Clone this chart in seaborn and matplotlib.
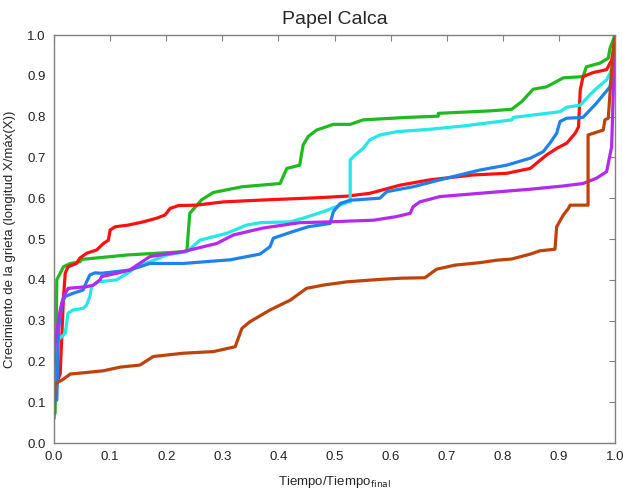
import matplotlib
matplotlib.use("Agg")
import matplotlib.pyplot as plt
import seaborn as sns
import pandas as pd

# ---- data ----
green_x = [0.0, 0.002, 0.005, 0.017, 0.029, 0.046, 0.049, 0.132, 0.183, 0.233, 0.237, 0.242, 0.263, 0.284,
           0.335, 0.403, 0.415, 0.438, 0.444, 0.453, 0.468, 0.498, 0.528, 0.551, 0.629, 0.685, 0.685, 0.777,
           0.816, 0.834, 0.854, 0.878, 0.908, 0.943, 0.949, 0.973, 0.988, 0.991, 1.0]
green_y = [0.07, 0.073, 0.40, 0.432, 0.44, 0.444, 0.45, 0.461, 0.465, 0.469, 0.473, 0.563, 0.596, 0.614,
           0.628, 0.636, 0.673, 0.681, 0.730, 0.751, 0.767, 0.781, 0.781, 0.792, 0.798, 0.801, 0.808, 0.814,
           0.818, 0.837, 0.867, 0.873, 0.895, 0.898, 0.922, 0.931, 0.943, 0.967, 1.0]

red_x = [0.003, 0.006, 0.011, 0.017, 0.020, 0.025, 0.040, 0.046, 0.058, 0.076, 0.088, 0.097, 0.100, 0.109,
         0.132, 0.159, 0.183, 0.198, 0.207, 0.222, 0.254, 0.302, 0.379, 0.468, 0.522, 0.563, 0.617, 0.670,
         0.747, 0.807, 0.849, 0.863, 0.878, 0.896, 0.914, 0.929, 0.935, 0.938, 0.943, 0.961, 0.985, 0.994, 1.0]
red_y = [0.13, 0.15, 0.17, 0.359, 0.416, 0.432, 0.44, 0.453, 0.465, 0.473, 0.489, 0.497, 0.522, 0.53,
         0.534, 0.542, 0.551, 0.559, 0.575, 0.582, 0.583, 0.591, 0.596, 0.601, 0.605, 0.612, 0.632, 0.645,
         0.657, 0.661, 0.673, 0.689, 0.706, 0.722, 0.735, 0.759, 0.775, 0.865, 0.898, 0.908, 0.915, 0.938, 0.99]

cyan_x = [0.0, 0.005, 0.011, 0.020, 0.025, 0.034, 0.052, 0.058, 0.064, 0.067, 0.070, 0.079, 0.112, 0.135,
          0.147, 0.171, 0.201, 0.237, 0.260, 0.308, 0.343, 0.367, 0.421, 0.444, 0.480, 0.510, 0.525, 0.528,
          0.528, 0.537, 0.551, 0.563, 0.581, 0.611, 0.670, 0.730, 0.816, 0.819, 0.902, 0.914, 0.938, 0.955,
          0.967, 0.985, 0.994, 1.0]
cyan_y = [0.18, 0.252, 0.257, 0.269, 0.318, 0.326, 0.33, 0.338, 0.359, 0.383, 0.387, 0.395, 0.40, 0.42,
          0.432, 0.444, 0.461, 0.469, 0.497, 0.514, 0.534, 0.54, 0.542, 0.551, 0.567, 0.583, 0.591, 0.591,
          0.694, 0.706, 0.722, 0.743, 0.755, 0.763, 0.769, 0.777, 0.792, 0.798, 0.812, 0.823, 0.828, 0.853,
          0.869, 0.89, 0.914, 0.96]

blue_x = [0.005, 0.008, 0.014, 0.020, 0.034, 0.052, 0.058, 0.064, 0.073, 0.085, 0.135, 0.171, 0.230, 0.314,
          0.367, 0.385, 0.391, 0.421, 0.453, 0.492, 0.498, 0.510, 0.528, 0.581, 0.593, 0.640, 0.688, 0.759,
          0.807, 0.849, 0.872, 0.884, 0.896, 0.902, 0.914, 0.943, 0.967, 0.991, 1.0]
blue_y = [0.105, 0.277, 0.342, 0.359, 0.367, 0.375, 0.395, 0.412, 0.417, 0.416, 0.424, 0.44, 0.44, 0.449,
          0.463, 0.481, 0.502, 0.516, 0.53, 0.538, 0.567, 0.587, 0.595, 0.60, 0.616, 0.628, 0.645, 0.669,
          0.681, 0.698, 0.714, 0.735, 0.759, 0.788, 0.796, 0.798, 0.833, 0.873, 0.95]

purple_x = [0.0, 0.002, 0.011, 0.017, 0.025, 0.058, 0.070, 0.082, 0.085, 0.112, 0.135, 0.171, 0.230, 0.290,
            0.320, 0.373, 0.438, 0.492, 0.528, 0.569, 0.611, 0.635, 0.640, 0.652, 0.688, 0.759, 0.849,
            0.908, 0.943, 0.967, 0.985, 0.994, 1.0]
purple_y = [0.17, 0.244, 0.326, 0.359, 0.379, 0.383, 0.387, 0.40, 0.408, 0.416, 0.424, 0.457, 0.469, 0.489,
            0.51, 0.527, 0.54, 0.542, 0.544, 0.546, 0.555, 0.563, 0.579, 0.591, 0.604, 0.612, 0.622,
            0.63, 0.636, 0.649, 0.665, 0.726, 1.0]

brown_x = [0.0, 0.002, 0.014, 0.029, 0.052, 0.088, 0.118, 0.153, 0.177, 0.230, 0.284, 0.323, 0.335, 0.349,
           0.385, 0.403, 0.421, 0.450, 0.480, 0.522, 0.581, 0.620, 0.661, 0.682, 0.715, 0.759, 0.789, 0.816,
           0.849, 0.866, 0.893, 0.896, 0.908, 0.917, 0.920, 0.952, 0.952, 0.961, 0.979, 0.982, 0.988, 0.994, 1.0]
brown_y = [0.06, 0.146, 0.154, 0.169, 0.172, 0.177, 0.186, 0.191, 0.212, 0.22, 0.224, 0.236, 0.281, 0.297,
           0.326, 0.338, 0.35, 0.379, 0.387, 0.395, 0.401, 0.404, 0.405, 0.426, 0.436, 0.442, 0.448, 0.451,
           0.463, 0.471, 0.475, 0.53, 0.559, 0.575, 0.583, 0.583, 0.755, 0.759, 0.767, 0.792, 0.796, 0.914, 1.0]

series = [
    (green_x, green_y, "#1fba1f"),
    (red_x, red_y, "#ff1010"),
    (cyan_x, cyan_y, "#22e8e8"),
    (blue_x, blue_y, "#1e82ee"),
    (purple_x, purple_y, "#b428f0"),
    (brown_x, brown_y, "#c0420a"),
]

sns.set_style("white")
plt.rcParams["font.family"] = ["Liberation Sans", "DejaVu Sans"]

fig = plt.figure(figsize=(6.23, 4.90), dpi=100)
ax = fig.add_axes([54 / 623, 1 - 443 / 490, (615 - 54) / 623, (443 - 35) / 490])

for xs, ys, col in series:
    df = pd.DataFrame({"x": xs, "y": ys})
    sns.lineplot(data=df, x="x", y="y", ax=ax, color=col, linewidth=2.3,
                 sort=False, estimator=None)

ax.set_xlim(0, 1)
ax.set_ylim(0, 1)
ticks = [round(i * 0.1, 1) for i in range(11)]
ax.set_xticks(ticks)
ax.set_yticks(ticks)
ax.set_xticklabels([f"{t:.1f}" for t in ticks])
ax.set_yticklabels([f"{t:.1f}" for t in ticks])
ax.tick_params(direction="in", length=4, width=0.8, color="#808080",
               labelsize=9.5, labelcolor="#222222", top=True, right=True, pad=6)
for s in ax.spines.values():
    s.set_color("#808080")
    s.set_linewidth(1.0)

ax.set_title("Papel Calca", fontsize=14, pad=8)
ax.set_xlabel("Tiempo/Tiempo$_{\\mathrm{final}}$", fontsize=9.5, labelpad=8)
ax.set_ylabel("Crecimiento de la grieta (longitud X/máx(X))", fontsize=9.5, labelpad=8)

fig.savefig("out.png", dpi=100)
